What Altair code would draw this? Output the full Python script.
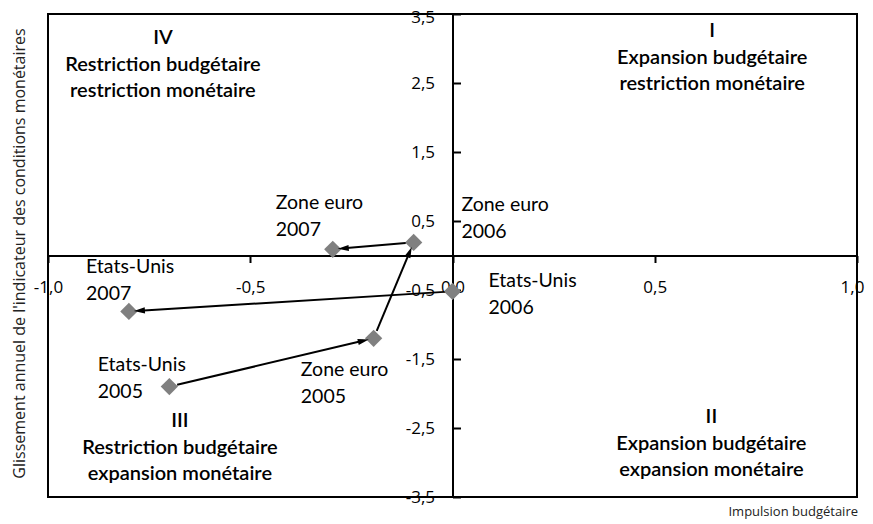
import math
import altair as alt
import pandas as pd

# ---------------- data ----------------
point_names = ["Etats-Unis 2005", "Zone euro 2005", "Zone euro 2006",
               "Zone euro 2007", "Etats-Unis 2006", "Etats-Unis 2007"]
point_x = [-0.70, -0.195, -0.096, -0.296, 0.0, -0.80]
point_y = [-1.90, -1.20, 0.19, 0.09, -0.52, -0.81]

label_text = ["Etats-Unis\n2005", "Zone euro\n2005", "Zone euro\n2006",
              "Zone euro\n2007", "Etats-Unis\n2006", "Etats-Unis\n2007"]
label_x = [-0.877, -0.375, 0.022, -0.437, 0.089, -0.906]
label_y = [-1.67, -1.75, 0.65, 0.68, -0.46, -0.26]

arrow_from = [0, 1, 2, 4]
arrow_to = [1, 2, 3, 5]

quad_text = ["IV\nRestriction budgétaire\nrestriction monétaire",
             "I\nExpansion budgétaire\nrestriction monétaire",
             "III\nRestriction budgétaire\nexpansion monétaire",
             "II\nExpansion budgétaire\nexpansion monétaire"]
quad_x = [-0.716, 0.642, -0.674, 0.640]
quad_y = [3.06, 3.16, -2.49, -2.43]

x_ticks = [-1.0, -0.5, 0.0, 0.5, 1.0]
y_ticks = [-3.5, -2.5, -1.5, -0.5, 0.5, 1.5, 2.5, 3.5]

x_title = "Impulsion budgétaire"
y_title = "Glissement annuel de l'indicateur des conditions monétaires"

# ---------------- layout ----------------
W, H = 809, 483
KX = W / 2.0   # px per unit on x
KY = H / 7.0   # px per unit on y

pts = pd.DataFrame({"name": point_names, "x": point_x, "y": point_y})
lbl = pd.DataFrame({"text": label_text, "x": label_x, "y": label_y})
quad = pd.DataFrame({"text": quad_text, "x": quad_x, "y": quad_y})

seg_rows, head_rows = [], []
for a, b in zip(arrow_from, arrow_to):
    x0, y0, x1, y1 = point_x[a], point_y[a], point_x[b], point_y[b]
    sx, sy = (x1 - x0) * KX, -(y1 - y0) * KY
    L = math.hypot(sx, sy)
    ux, uy = sx / L, sy / L
    s0, s1 = 8.0, 5.0
    xs0, ys0 = x0 + ux * s0 / KX, y0 - uy * s0 / KY
    xe, ye = x1 - ux * s1 / KX, y1 + uy * s1 / KY
    # line stops a bit behind the arrow tip
    xl, yl = x1 - ux * (s1 + 6) / KX, y1 + uy * (s1 + 6) / KY
    seg_rows.append({"x": xs0, "y": ys0, "x2": xl, "y2": yl})
    ang = math.degrees(math.atan2(sx, -sy)) % 360
    head_rows.append({"x": xe, "y": ye, "angle": ang})
segs = pd.DataFrame(seg_rows)
heads = pd.DataFrame(head_rows)

xs = alt.Scale(domain=[-1, 1], nice=False, zero=False)
ys = alt.Scale(domain=[-3.5, 3.5], nice=False, zero=False)

label_expr = "replace(replace(format(datum.value, '.1f'), '.', ','), '\u2212', '-')"

x_axis = alt.Axis(values=x_ticks, offset=-(H / 2.0), domainColor="black", domainWidth=2,
                  tickColor="black", tickWidth=2, tickSize=7, labelPadding=25,
                  labelFont="Open Sans", labelFontSize=17, labelColor="black",
                  labelExpr=label_expr, grid=False, title=None, labelBaseline="middle",
                  labelFlush=False, labelOverlap=False,
                  labelOffset={"condition": {"test": "datum.value >= 1", "value": -5},
                               "value": 0})
y_axis = alt.Axis(values=y_ticks, orient="right", offset=-(W / 2.0), domainColor="black",
                  domainWidth=2, tickColor="black", tickWidth=2, tickSize=8,
                  labelPadding=-26, labelAlign="right", labelBaseline="middle",
                  labelFont="Open Sans", labelFontSize=17, labelColor="black",
                  labelExpr=label_expr, grid=False, title=None,
                  labelFlush=False, labelOverlap=False,
                  labelOffset={"condition": {"test": "datum.value >= 3.5", "value": 3},
                               "value": 0})

X = lambda f="x": alt.X(f"{f}:Q", scale=xs, axis=x_axis)
Y = lambda f="y": alt.Y(f"{f}:Q", scale=ys, axis=y_axis)

diamonds = alt.Chart(pts).mark_point(shape="diamond", filled=True, size=300,
                                     color="#808080", opacity=1).encode(x=X(), y=Y())

lines = alt.Chart(segs).mark_rule(color="black", strokeWidth=2).encode(
    x=X(), y=Y(), x2="x2:Q", y2="y2:Q")

arrowheads = alt.Chart(heads).mark_point(
    shape="M0,0L0.5,1.8L-0.5,1.8Z", filled=True, color="black", size=150, opacity=1
).encode(x=X(), y=Y(), angle=alt.Angle("angle:Q", scale=None))

labels = alt.Chart(lbl).mark_text(align="left", baseline="alphabetic", lineBreak="\n",
                                  font="Lato", fontSize=19.5, lineHeight=27,
                                  color="black").encode(x=X(), y=Y(), text="text:N")

quads = alt.Chart(quad).mark_text(align="center", baseline="alphabetic", lineBreak="\n",
                                  font="Lato", fontSize=20, fontWeight=600, lineHeight=26.5,
                                  color="black").encode(x=X(), y=Y(), text="text:N")

ytitle = alt.Chart(pd.DataFrame({"t": [y_title]})).mark_text(
    angle=270, align="center", baseline="middle", font="Open Sans", fontSize=16,
    color="#222222").encode(x=alt.value(-28), y=alt.value(H / 2.0 - 2), text="t:N")

xtitle = alt.Chart(pd.DataFrame({"t": [x_title]})).mark_text(
    align="right", baseline="middle", font="Open Sans", fontSize=13,
    color="#222222").encode(x=alt.value(W + 1), y=alt.value(H + 15), text="t:N")

chart = alt.layer(diamonds, lines, arrowheads, labels, quads, ytitle, xtitle).properties(
    width=W, height=H, autosize="none",
    padding={"left": 40, "top": 6, "right": 8, "bottom": 25},
).configure_view(stroke="black", strokeWidth=2)

chart.save("out.html", embed_options={"renderer": "svg", "actions": False})
